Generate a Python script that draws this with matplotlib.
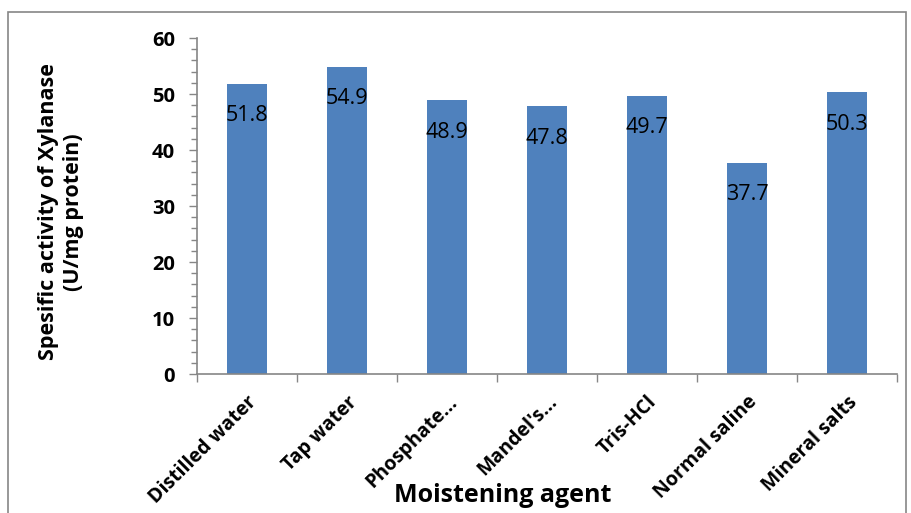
import matplotlib.pyplot as plt
import numpy as np
from matplotlib.patches import Rectangle
from matplotlib.ticker import MultipleLocator, FixedLocator

plt.rcParams['font.family'] = ['Open Sans', 'DejaVu Sans']

agents = ['Distilled water', 'Tap water', 'Phosphate...', "Mandel's...",
          'Tris-HCl', 'Normal saline', 'Mineral salts']
activity = [51.8, 54.9, 48.9, 47.8, 49.7, 37.7, 50.3]

W, H = 912, 513
fig = plt.figure(figsize=(W / 100, H / 100), dpi=100)
ax = fig.add_axes([197 / W, 1 - 374 / H, 700 / W, 336 / H])

grey = '#868686'
x = np.arange(len(agents))
bars = ax.bar(x, activity, width=0.4, color='#4F81BD')

# data labels inside the bar tops
for xi, v in zip(x, activity):
    ax.annotate(f'{v}', (xi, v), xytext=(0, -23), textcoords='offset points',
                ha='center', va='center', fontsize=15.5, color='black')

ax.set_xlim(-0.5, len(agents) - 0.5)
ax.set_ylim(0, 60)
ax.yaxis.set_major_locator(MultipleLocator(10))
ax.yaxis.set_minor_locator(MultipleLocator(2))
ax.set_xticks(x)
ax.set_xticklabels(agents, rotation=45, ha='right', va='top',
                   rotation_mode='anchor', fontweight='bold', fontsize=14)
ax.xaxis.set_minor_locator(FixedLocator(np.arange(-0.5, len(agents), 1)))
ax.tick_params(axis='x', which='major', length=0, pad=13)
ax.tick_params(axis='x', which='minor', length=6, color=grey, width=1)
ax.tick_params(axis='y', which='major', length=6, color=grey, width=1,
               labelsize=14.5, pad=10)
ax.tick_params(axis='y', which='minor', length=4, color=grey, width=1)
for lab in ax.get_yticklabels():
    lab.set_fontweight('bold')

for s in ['top', 'right']:
    ax.spines[s].set_visible(False)
for s in ['left', 'bottom']:
    ax.spines[s].set_color(grey)
    ax.spines[s].set_linewidth(1.2)

ax.set_ylabel('Spesific activity of Xylanase\n(U/mg protein)',
              fontsize=15.5, fontweight='bold', linespacing=1.25, va='center')
ax.yaxis.set_label_coords(-0.194, 0.482)
ax.set_xlabel('Moistening agent', fontsize=18, fontweight='bold')
ax.xaxis.set_label_coords(0.436, -0.325)

fig.patches.append(Rectangle((8 / W, -0.02), 898 / W, 1 - 12 / H + 0.02,
                             transform=fig.transFigure, fill=False,
                             edgecolor=grey, linewidth=1.2))

fig.savefig('out.png', dpi=100)
